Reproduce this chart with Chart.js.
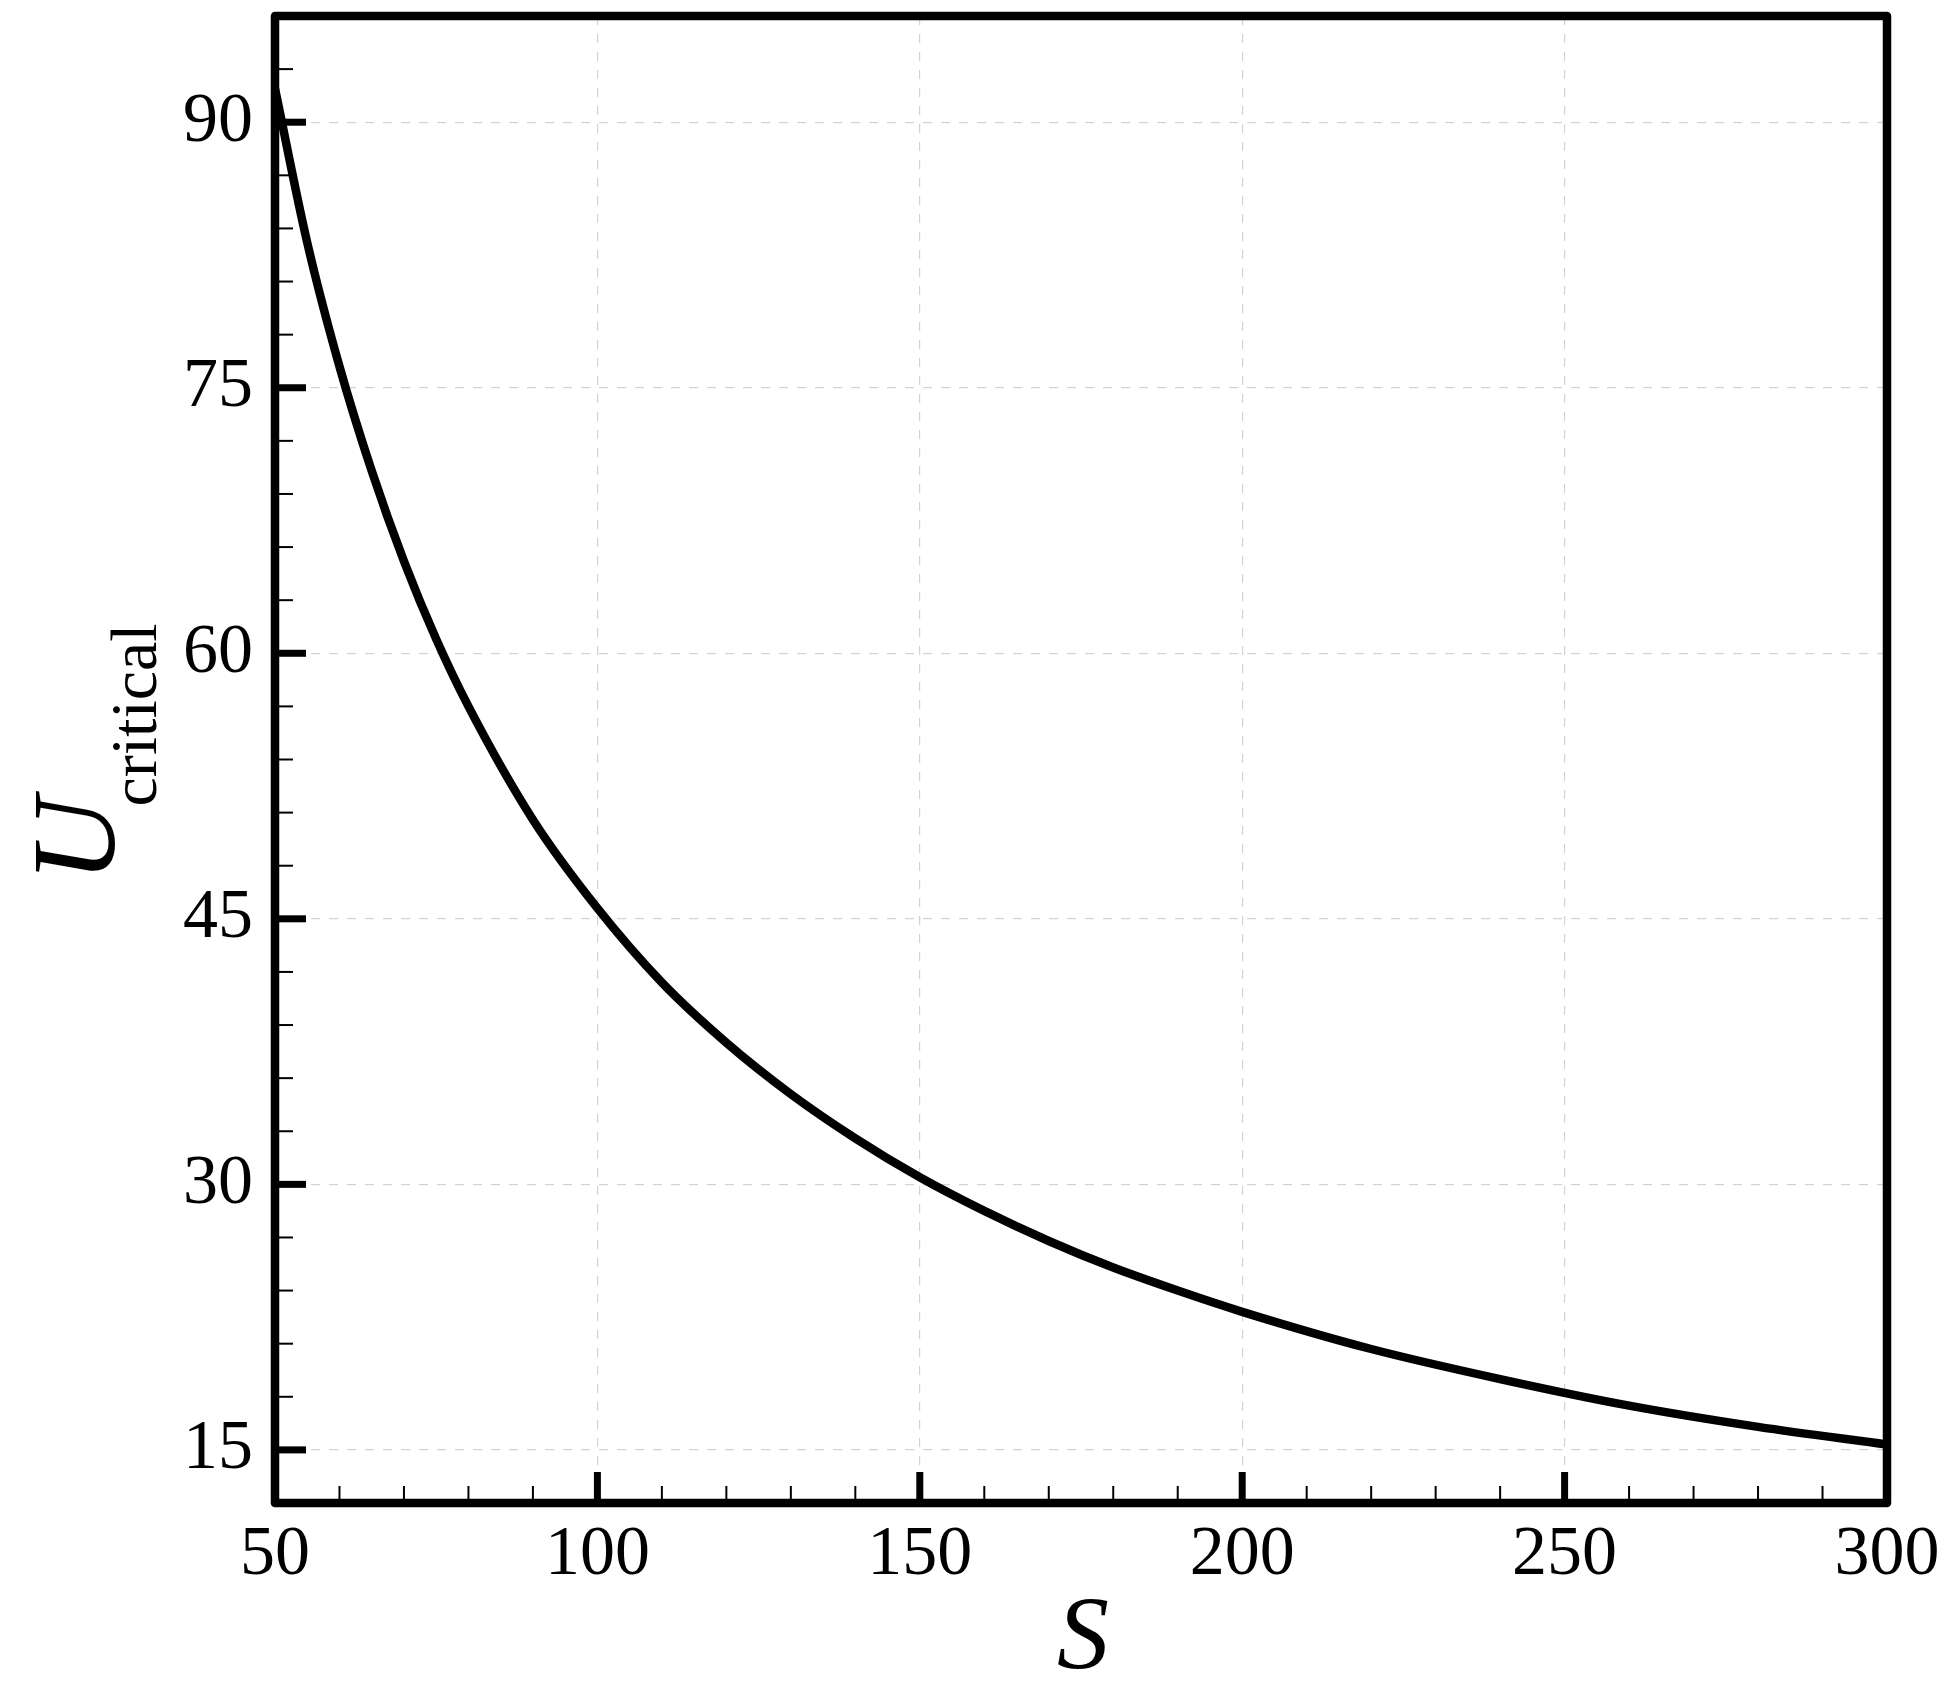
<!DOCTYPE html>
<html lang="en">
<head>
    <meta charset="UTF-8">
    <title>U critical vs S</title>
    <script src="https://cdn.jsdelivr.net/npm/chart.js"></script>
    <style>
        html, body {
            margin: 0;
            padding: 0;
            background: #ffffff;
        }
        .wrap {
            width: 1956px;
            height: 1700px;
            position: relative;
        }
    </style>
</head>
<body>
    <div class="wrap">
        <canvas id="ucritChart"></canvas>
    </div>

    <script>
        // values
        const sValues = [50, 55, 60, 65, 70, 75, 80, 90, 100, 110, 120, 130, 140, 150, 160, 170, 180, 190, 200, 220, 240, 260, 280, 300];
        const uCritical = [91.9, 83.2, 76.2, 70.3, 65.2, 60.8, 57.0, 50.6, 45.6, 41.4, 38.0, 35.1, 32.6, 30.4, 28.5, 26.8, 25.3, 24.0, 22.8, 20.7, 19.0, 17.5, 16.3, 15.3];

        // axis ticks
        const xTicks = [50, 100, 150, 200, 250, 300];
        const yTicks = [15, 30, 45, 60, 75, 90];
        const xMinorStep = 10;
        const yMinorStep = 3;
        const xRange = [50, 300];
        const yRange = [12, 96];

        const serif = "'Liberation Serif', 'Times New Roman', serif";

        // frame, inward ticks and axis titles
        const framePlugin = {
            id: 'frame',
            afterDatasetsDraw(chart) {
                const ctx = chart.ctx;
                const area = chart.chartArea;
                const xs = chart.scales.x;
                const ys = chart.scales.y;
                ctx.save();
                ctx.strokeStyle = '#000';
                ctx.lineCap = 'butt';

                // minor ticks
                ctx.lineWidth = 2;
                for (let v = xRange[0]; v <= xRange[1]; v += xMinorStep) {
                    if (xTicks.includes(v)) continue;
                    const px = xs.getPixelForValue(v);
                    ctx.beginPath();
                    ctx.moveTo(px, area.bottom);
                    ctx.lineTo(px, area.bottom - 17);
                    ctx.stroke();
                }
                for (let v = yRange[0] + yMinorStep; v < yRange[1]; v += yMinorStep) {
                    if (yTicks.includes(v)) continue;
                    const py = ys.getPixelForValue(v);
                    ctx.beginPath();
                    ctx.moveTo(area.left, py);
                    ctx.lineTo(area.left + 18, py);
                    ctx.stroke();
                }

                // major ticks
                ctx.lineWidth = 7;
                xTicks.forEach(v => {
                    const px = xs.getPixelForValue(v);
                    ctx.beginPath();
                    ctx.moveTo(px, area.bottom);
                    ctx.lineTo(px, area.bottom - 31);
                    ctx.stroke();
                });
                yTicks.forEach(v => {
                    const py = ys.getPixelForValue(v);
                    ctx.beginPath();
                    ctx.moveTo(area.left, py);
                    ctx.lineTo(area.left + 31, py);
                    ctx.stroke();
                });

                // box
                ctx.lineWidth = 8.5;
                ctx.lineJoin = 'round';
                ctx.strokeRect(area.left, area.top, area.right - area.left, area.bottom - area.top);
                ctx.restore();
            },
            afterDraw(chart) {
                const ctx = chart.ctx;
                const area = chart.chartArea;
                const midX = (area.left + area.right) / 2;
                const midY = (area.top + area.bottom) / 2;
                ctx.save();
                ctx.fillStyle = '#000';

                // x title
                ctx.font = 'italic 104px ' + serif;
                ctx.textAlign = 'center';
                ctx.textBaseline = 'alphabetic';
                ctx.fillText('S', midX + 2, area.bottom + 165);

                // y title, rotated, with subscript
                ctx.translate(area.left - 161, midY + 123);
                ctx.rotate(-Math.PI / 2);
                ctx.textAlign = 'left';
                ctx.font = 'italic 118px ' + serif;
                ctx.fillText('U', 0, 0);
                ctx.font = '66px ' + serif;
                ctx.fillText('critical', 76, 42);
                ctx.restore();
            }
        };

        const config = {
            type: 'line',
            data: {
                datasets: [{
                    label: 'U critical',
                    data: sValues.map((s, i) => ({ x: s, y: uCritical[i] })),
                    borderColor: '#000',
                    borderWidth: 8.5,
                    pointRadius: 0,
                    fill: false,
                    cubicInterpolationMode: 'monotone'
                }]
            },
            options: {
                responsive: true,
                maintainAspectRatio: false,
                animation: false,
                layout: {
                    padding: { top: 16, right: 69, bottom: 0, left: 0 }
                },
                plugins: {
                    legend: { display: false },
                    tooltip: { enabled: false }
                },
                scales: {
                    x: {
                        type: 'linear',
                        min: xRange[0],
                        max: xRange[1],
                        afterBuildTicks: scale => {
                            scale.ticks = xTicks.map(v => ({ value: v }));
                        },
                        afterFit: scale => {
                            scale.height = 197;
                            scale.paddingLeft = 0;
                            scale.paddingRight = 0;
                        },
                        ticks: {
                            color: '#000',
                            padding: 11,
                            maxRotation: 0,
                            autoSkip: false,
                            font: { family: serif, size: 70 }
                        },
                        grid: {
                            color: '#d2d2d2',
                            lineWidth: 1.2,
                            drawTicks: false
                        },
                        border: { display: false, dash: [9, 9] }
                    },
                    y: {
                        type: 'linear',
                        min: yRange[0],
                        max: yRange[1],
                        afterBuildTicks: scale => {
                            scale.ticks = yTicks.map(v => ({ value: v }));
                        },
                        afterFit: scale => {
                            scale.width = 275;
                            scale.paddingTop = 0;
                            scale.paddingBottom = 0;
                        },
                        ticks: {
                            color: '#000',
                            padding: 22,
                            autoSkip: false,
                            font: { family: serif, size: 70 }
                        },
                        grid: {
                            color: '#d2d2d2',
                            lineWidth: 1.2,
                            drawTicks: false
                        },
                        border: { display: false, dash: [9, 9] }
                    }
                }
            },
            plugins: [framePlugin]
        };

        const ucritChart = new Chart(document.getElementById('ucritChart'), config);
    </script>
</body>
</html>
